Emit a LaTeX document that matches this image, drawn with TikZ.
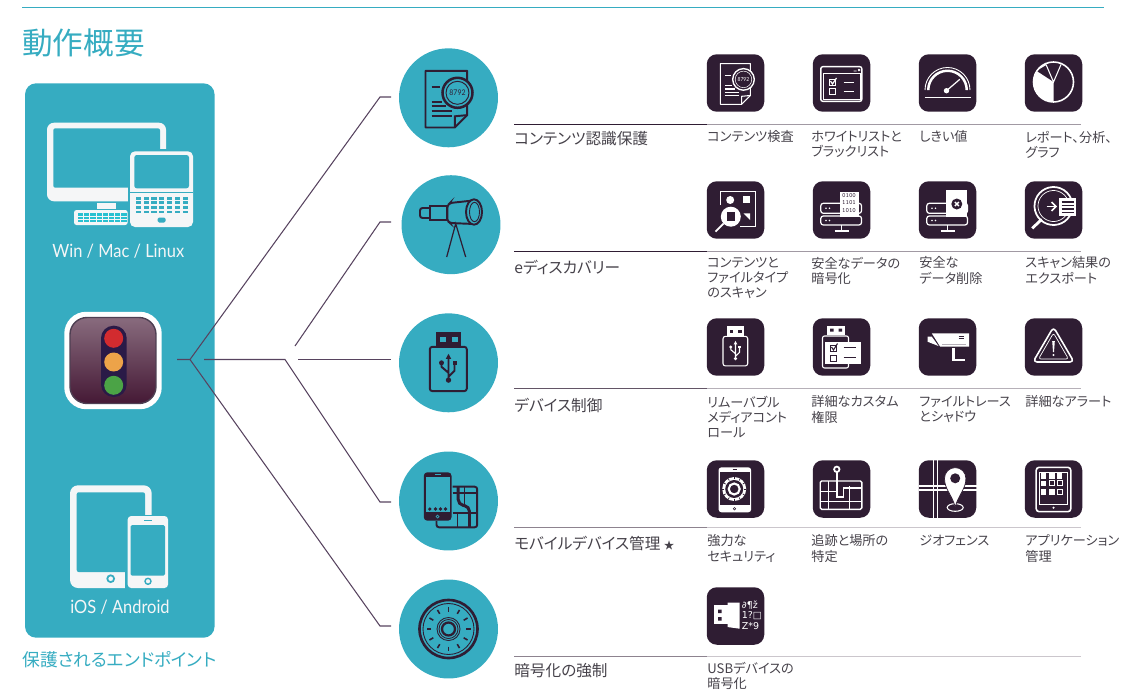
\documentclass[tikz,border=0pt]{standalone}
\usepackage{fontspec}
\setmainfont{Noto Sans CJK JP}[RawFeature=+palt]
\newfontfamily\latinfont{Lato}[FakeStretch=.9]
\newfontfamily\glyphfont{DejaVu Sans}
\usetikzlibrary{positioning}

\definecolor{panelblue}{HTML}{36ACC1}
\definecolor{tiledark}{HTML}{2F1D33}
\definecolor{fanline}{HTML}{57435F}
\definecolor{labelgrey}{HTML}{46424A}
\definecolor{paperwhite}{HTML}{F5F6F7}

\tikzset{
    tile/.style={fill=tiledark,rounded corners=.2cm,minimum size=1.15cm,inner sep=0},
    disc/.style={circle,fill=panelblue,minimum size=1.98cm,inner sep=0},
    fan/.style={draw=fanline,line width=.6pt},
    head/.style={anchor=west,inner sep=0,text=labelgrey,font=\fontsize{8.9}{10}\selectfont},
    sublabel/.style={anchor=north west,inner sep=0,align=left,text=labelgrey,font=\fontsize{7.5}{8.7}\selectfont},
    panellabel/.style={inner sep=0,text=paperwhite,font=\latinfont\fontsize{10.4}{12}\selectfont},
}

\newcommand{\oncircle}[2]{\begin{scope}[shift={(#1.center)}]\colorlet{ink}{tiledark}\colorlet{back}{panelblue}#2\end{scope}}
\newcommand{\ontile}[2]{\begin{scope}[shift={(#1.center)}]\colorlet{ink}{white}\colorlet{back}{tiledark}#2\end{scope}}

\newcommand{\docglass}[1]{
    \draw[ink,line width=#1,line join=round] (-23,-27) -- (18.7,-27) -- (18.7,17.3) -- (6.3,29.7) -- (-23,29.7) -- cycle;
    \draw[ink,line width=#1] (6.3,29.7) -- (6.3,18.5) -- (18.7,17.3);
    \draw[ink,line width=1.3*#1] (-17,-10.7) -- (-9,-10.7);
    \foreach \ly/\lx in {4/-7,8.3/-3,13.3/3,18/3}
        \draw[ink,line width=#1] (-17,\ly) -- (\lx,\ly);
    \draw[ink,fill=back,line width=1.3*#1] (9,-5) circle (15);
    \draw[ink,line width=.5*#1] (9,-5) circle (11.5);
    \node[text=ink,inner sep=0,transform shape,font=\latinfont\fontsize{4.4}{5}\selectfont] (num) at (9,-5) {8792};
}

\newcommand{\usbstick}[1]{
    \fill[ink] (-12.3,-31) rectangle (12.3,-16);
    \fill[back] (-8.7,-26) rectangle (-3,-21.3);
    \fill[back] (3,-26) rectangle (9,-21.3);
    \draw[ink,line width=#1,rounded corners=.05cm] (-18.7,-16) rectangle (18.3,28.3);
    \draw[ink,line width=#1] (0,-5) -- (0,17) (0,10) -- (-7,4) -- (-7,1) (0,14) -- (6,8) -- (6,0);
    \fill[ink] (0,-9) -- (-2.7,-4) -- (2.7,-4) -- cycle;
    \fill[ink] (0,17.3) circle (2.7);
    \fill[ink] (-7,0) circle (2.5);
    \fill[ink] (4,-2) rectangle (8,2);
}

\newcommand{\servers}{
    \draw[ink,line width=.7pt,rounded corners=.05cm] (-20.7,-6.7) rectangle (20,3.3);
    \draw[ink,line width=.7pt,rounded corners=.05cm] (-20.7,6) rectangle (20,15);
    \foreach \sy in {-1.7,10.5} {
        \fill[ink] (-15.5,\sy) circle (.9);
        \fill[ink] (-12,\sy) circle (.9);
    }
    \draw[ink,line width=.7pt] (0,15) -- (0,21) (-7,21) -- (7,21);
}

\begin{document}
\begin{tikzpicture}[x=.02cm,y=-.02cm]
    \useasboundingbox (0,0) rectangle (1140,700);

    \coordinate (topA) at (22,7.5);
    \coordinate (topB) at (1104,7.5);
    \draw[panelblue,line width=.5pt] (topA) -- (topB);

    \node[anchor=west,inner sep=0,text=panelblue,font=\fontsize{17.4}{20}\selectfont] (title) at (22,43) {動作概要};

    \node[fill=panelblue,rounded corners=.22cm,minimum width=3.79cm,minimum height=11.09cm,inner sep=0] (panel) at (119.8,360.5) {};
    \node[anchor=west,inner sep=0,text=panelblue,font=\fontsize{10.1}{11}\selectfont] (endpoints) at (22,660) {保護されるエンドポイント};

    \fill[paperwhite,rounded corners=.14cm] (47,122.7) rectangle (166,201.3);
    \fill[panelblue,rounded corners=.04cm] (53.3,128.3) rectangle (160,187.7);
    \fill[panelblue] (127.7,149) rectangle (167,202);
    \fill[paperwhite] (96.7,203.3) rectangle (116,208.7);
    \fill[paperwhite,rounded corners=.05cm] (74,210) rectangle (127.7,225);
    \foreach \i in {0,...,7}
        \foreach \j in {0,...,2}
            \fill[panelblue!75!cyan] (78+\i*6.2,213.2+\j*3.4) rectangle ++(5.2,2.4);
    \fill[paperwhite,rounded corners=.1cm] (130,151.3) rectangle (193,227);
    \fill[panelblue,rounded corners=.05cm] (134.3,155) rectangle (189,188.3);
    \draw[panelblue,line width=.3pt] (130,192) -- (193,192);
    \foreach \i in {0,...,6}
        \foreach \j in {0,...,3}
            \fill[panelblue] (135.7+\i*7.8,196.7+\j*4.6) rectangle ++(5.2,2.8);
    \fill[panelblue,rounded corners=.03cm] (157.7,217.5) rectangle (165.7,222.5);
    \node[panellabel] (desk) at (118.3,250.7) {Win / Mac / Linux};

    \node[fill=white,rounded corners=.44cm,minimum size=1.95cm,inner sep=0] (sigframe) at (113,360.5) {};
    \node[draw=tiledark!85,line width=.8pt,top color=tiledark!60!white!90!purple,bottom color=tiledark!85!purple,rounded corners=.34cm,minimum size=1.72cm,inner sep=0] (sig) at (113,360.5) {};
    \fill[tiledark!90!blue,rounded corners=.25cm] (101,325.7) rectangle (126.7,397);
    \foreach \ly/\lc in {338.3/D22B2F,362/EDA349,385.3/4BA346} {
        \definecolor{lamp}{HTML}{\lc}
        \fill[lamp] (113.7,\ly) circle (9.5);
    }

    \fill[paperwhite,rounded corners=.16cm] (70,485.3) rectangle (151.7,588);
    \fill[panelblue,rounded corners=.04cm] (76.7,492.3) rectangle (145,572);
    \fill[panelblue] (125,515) rectangle (153,590);
    \draw[panelblue,fill=paperwhite,line width=1pt] (110.7,578.7) circle (3.4);
    \fill[paperwhite,rounded corners=.07cm] (127.7,516) rectangle (168,588);
    \fill[panelblue,rounded corners=.03cm] (130.7,525) rectangle (165,575.7);
    \draw[panelblue,line width=.5pt] (144,520.7) -- (152,520.7);
    \draw[panelblue,fill=paperwhite,line width=.8pt] (148,581.3) circle (3);
    \node[panellabel] (mobile) at (120,607.3) {iOS / Android};

    \coordinate (stub) at (177,359.5);
    \coordinate (hub) at (190,359.5);
    \coordinate (k1) at (380,97);
    \coordinate (e1) at (391,97);
    \coordinate (s2) at (295,346);
    \coordinate (k2) at (380,222);
    \coordinate (e2) at (391,222);
    \coordinate (s3) at (298,359.5);
    \coordinate (e3) at (391,359.5);
    \coordinate (s4) at (204,359.5);
    \coordinate (b4) at (285,359.5);
    \coordinate (k4) at (380,502);
    \coordinate (e4) at (391,502);
    \coordinate (k5) at (380,626);
    \coordinate (e5) at (391,626);
    \draw[fan] (stub) -- (hub) -- (k1) -- (e1);
    \draw[fan] (s2) -- (k2) -- (e2);
    \draw[fan] (s3) -- (e3);
    \draw[fan] (s4) -- (b4) -- (k4) -- (e4);
    \draw[fan] (hub) -- (k5) -- (e5);

    \foreach \n/\x/\y in {1/448.5/97.8,2/451/224.7,3/448.5/362.8,4/448.5/501,5/448.5/629}
        \node[disc] (c\n) at (\x,\y) {};

    \foreach \r/\y in {1/83,2/210,3/347,4/489}
        \foreach \c/\x in {1/735.5,2/841.5,3/947.5,4/1053.5}
            \node[tile] (t\r\c) at (\x,\y) {};
    \node[tile] (t51) at (735.5,616) {};

    \foreach \r/\y/\hy/\lc/\rc/\w/\txt in {
        1/124.5/139/tiledark/tiledark!45/.6pt/コンテンツ認識保護,
        2/251.5/267/tiledark/tiledark!45/.6pt/eディスカバリー,
        3/388.3/405/tiledark!75/tiledark!35/.8pt/デバイス制御,
        4/527.7/543/tiledark!55/tiledark!25/.9pt/モバイルデバイス管理 {\fontsize{6}{6}\selectfont ★},
        5/656.7/671/tiledark!55/tiledark!25/.9pt/暗号化の強制} {
        \coordinate (ruleL\r) at (514,\y);
        \coordinate (ruleM\r) at (707,\y);
        \coordinate (ruleR\r) at (1081,\y);
        \draw[\lc,line width=\w] (ruleL\r) -- (ruleM\r);
        \draw[\rc,line width=\w] (ruleM\r) -- (ruleR\r);
        \node[head] (h\r) at (514,\hy) {\txt};
    }

    \foreach \n/\x/\y/\txt in {
        11/707/130.5/コンテンツ検査,
        12/811/130.5/{ホワイトリストと\\ブラックリスト},
        13/919/130.5/しきい値,
        14/1025/130.5/{レポート、分析、\\グラフ},
        21/707/256.5/{コンテンツと\\ファイルタイプ\\のスキャン},
        22/811/256.5/{安全なデータの\\暗号化},
        23/919/256.5/{安全な\\データ削除},
        24/1025/256.5/{スキャン結果の\\エクスポート},
        31/707/395.5/{リムーバブル\\メディアコント\\ロール},
        32/811/395.5/{詳細なカスタム\\権限},
        33/919/395.5/{ファイルトレース\\とシャドウ},
        34/1025/395.5/詳細なアラート,
        41/707/534.5/{強力な\\セキュリティ},
        42/811/534.5/{追跡と場所の\\特定},
        43/919/534.5/ジオフェンス,
        44/1025/534.5/{アプリケーション\\管理},
        51/707/661.5/{USBデバイスの\\暗号化}}
        \node[sublabel] (l\n) at (\x,\y) {\txt};

    \oncircle{c1}{\docglass{1.1pt}}
    \ontile{t11}{\begin{scope}[shift={(1.5,0)},scale=.72]\docglass{.6pt}\end{scope}}

    \oncircle{c2}{
        \draw[ink,line width=1.1pt,rounded corners=.05cm] (-21,-16.7) -- (-31,-16.7) -- (-31,-6.7) -- (-21,-6.7);
        \draw[ink,line width=1.1pt] (-21,-18.3) rectangle (-4,-5);
        \draw[ink,line width=1.1pt,rounded corners=.05cm] (23,-24.3) -- (-1,-21.7) -- (-3.7,-19) -- (-3.7,-4) -- (-1,-1.7) -- (23,-.7);
        \draw[ink,fill=back,line width=1.1pt] (23,-12.7) ellipse (8 and 12.7);
        \draw[ink,line width=.5pt] (23.5,-12.7) ellipse (5 and 9.7);
        \draw[ink,line width=.7pt] (-4.3,32.3) -- (4.7,-1) -- (14.7,32.3);
    }

    \oncircle{c3}{\usbstick{1.1pt}}
    \ontile{t31}{\begin{scope}[scale=.67]\usbstick{.6pt}\end{scope}}

    \oncircle{c4}{
        \draw[ink,line width=1.1pt,rounded corners=.05cm] (4,-14.3) -- (28.7,-14.3) -- (28.7,26.3) -- (-12,26.3) -- (-12,20);
        \draw[ink,line width=.6pt] (4,-8) -- (28.7,-8) (16,-14.3) -- (16,4) (4,12) -- (28.7,12) (9,12) -- (9,26.3);
        \draw[ink,line width=1.7pt,rounded corners=.1cm] (9.7,-14) -- (9.7,3.5) -- (21,5.5) -- (21,26);
        \fill[ink,rounded corners=.07cm] (-24.7,-28.7) rectangle (3,19.7);
        \fill[back] (-22.7,-24.5) rectangle (1.3,11);
        \foreach \dx in {-18.7,-13,-8,-3}
            \fill[ink] (\dx,8) circle (1.8);
        \draw[back,line width=.4pt] (-11,15.5) circle (1.5);
        \draw[back,line width=.4pt] (-14,-26.5) -- (-8,-26.5);
    }

    \oncircle{c5}{
        \draw[ink,line width=1.5pt] (0,0) circle (29);
        \draw[ink,line width=.5pt] (0,0) circle (25.5);
        \foreach \a in {0,30,...,330}
            \draw[ink,line width=.9pt] (\a:17.5) -- (\a:22);
        \draw[ink,line width=.5pt] (0,0) circle (11.5);
        \draw[ink,line width=.5pt] (0,0) circle (9.5);
        \draw[ink,line width=1.3pt] (0,0) circle (6.5);
    }

    \ontile{t12}{
        \draw[ink,line width=.8pt,rounded corners=.04cm] (-20.7,-16.3) rectangle (20.3,18.3);
        \draw[ink,line width=.3pt] (-18.7,-9.7) rectangle (18.3,16.3);
        \draw[ink,line width=.4pt] (12,-12) -- (15,-12) (16.5,-14) -- (18.5,-12) (18.5,-14) -- (16.5,-12);
        \draw[ink,line width=.4pt] (-12,-3.7) rectangle (-6,2.3) (-12,5.7) rectangle (-6,11.7);
        \draw[ink,line width=.7pt] (-11,-2) -- (-9,1) -- (-5,-5);
        \draw[ink,line width=.4pt] (2,-.7) -- (12,-.7) (2,8.7) -- (12,8.7);
    }

    \ontile{t13}{
        \draw[ink,line width=.5pt] (-22.5,7) arc (180:360:22.5);
        \fill[ink] (-20.5,7) arc (180:360:20.5) -- (18,7) arc (360:180:18) -- cycle;
        \draw[ink,line width=.8pt] (-23,14.3) -- (23,14.3);
        \draw[back,line width=1.6pt] (-1,7.7) -- (13,-5);
        \draw[ink,line width=.7pt] (-1,7.7) -- (12.3,-3.7);
        \fill[ink] (-1,7.7) circle (2.7);
    }

    \ontile{t14}{
        \draw[ink,line width=.9pt] (0,-1) circle (20);
        \fill[ink] (0,-1) -- (0,19) arc (90:213:20) -- cycle;
        \draw[ink,line width=.6pt] (-7.5,-18.5) -- (0,-1) -- (7.5,-18.5) (-7.5,-18.5) -- (-15,-14);
    }

    \ontile{t21}{
        \draw[ink,line width=.5pt] (-15.3,-5) -- (-15.3,-18.3) -- (20.3,-18.3) -- (20.3,16) -- (4,16);
        \fill[ink] (-5.3,-10) circle (4);
        \fill[ink] (7,-14) rectangle (14.7,-6.7);
        \fill[ink] (8,3.3) -- (14.7,3.3) -- (14.7,10) -- cycle;
        \fill[ink] (-4.7,6.7) circle (10);
        \fill[back] (-9,2.3) rectangle (-.5,11);
        \draw[ink,line width=1pt] (-12,13.5) -- (-20,21.7);
    }

    \ontile{t22}{
        \servers
        \fill[ink] (-2,-17.7) rectangle (17,7.3);
        \node[text=back,inner sep=0,align=center,font=\ttfamily\fontsize{3.7}{4.1}\selectfont] (bits) at (7.5,-7) {0100\\1101\\1010};
    }

    \ontile{t23}{
        \servers
        \fill[ink] (-1.7,-20) rectangle (19.3,7.3);
        \fill[back] (9.3,-6) circle (5.5);
        \draw[ink,line width=.8pt] (7.3,-8) -- (11.3,-4) (11.3,-8) -- (7.3,-4);
    }

    \ontile{t24}{
        \draw[ink,line width=1pt] (20:19) ++(0,-4) arc (20:340:19);
        \draw[ink,line width=.4pt] (30:15.5) ++(0,-4) arc (30:330:15.5);
        \draw[ink,line width=1.6pt] (-11.7,9.3) -- (-21.3,18.3);
        \fill[ink] (5.3,-11.7) rectangle (22.7,5.7);
        \foreach \ly in {-8,-4.5,-1,2.5}
            \draw[back,line width=.6pt] (8,\ly) -- (20,\ly);
        \draw[ink,line width=.9pt] (-7,-3.5) -- (1,-3.5);
        \draw[ink,line width=.9pt] (-2,-8) -- (2.5,-3.5) -- (-2,1);
    }

    \ontile{t32}{
        \fill[ink] (-14.7,-21) rectangle (3.7,-12);
        \fill[back] (-11.5,-18.5) rectangle (-8,-15.5) (-3,-18.5) rectangle (.5,-15.5);
        \draw[ink,line width=.6pt,rounded corners=.04cm] (-19,-11) rectangle (7,21);
        \fill[ink] (-16.3,-5.3) rectangle (19.7,17.3);
        \draw[back,line width=.4pt] (-11,-2) rectangle (-5,4) (-11,8) rectangle (-5,14);
        \draw[back,line width=.6pt] (-10,0) -- (-8,3) -- (-4,-3.5);
        \draw[back,line width=.8pt] (2,.7) -- (14.3,.7) (2,10.7) -- (14.3,10.7);
    }

    \ontile{t33}{
        \fill[ink] (-15.7,-13.7) -- (21.7,-13.7) -- (21.7,-.3) -- (-7.3,-.3) -- cycle;
        \fill[ink] (-20,-10.3) -- (-15.7,-10.3) -- (-9,-1) -- (-20,-5.3) -- cycle;
        \draw[tiledark!35,line width=.5pt] (-5.7,-2.7) -- (18.3,-2.7);
        \draw[back,line width=.5pt] (11,-11) -- (16,-11) (11,-8.7) -- (16,-8.7);
        \draw[ink,line width=1.4pt] (6,1) -- (6,13) -- (17.7,13);
    }

    \ontile{t34}{
        \draw[ink,line width=.9pt,line join=round,rounded corners=.08cm] (0,-20) -- (20.5,15) -- (-20.5,15) -- cycle;
        \draw[ink,line width=.4pt,line join=round,rounded corners=.05cm] (0,-14) -- (15,12) -- (-15,12) -- cycle;
        \fill[ink] (-1.3,-6) -- (1.3,-6) -- (.5,5) -- (-.5,5) -- cycle;
        \fill[ink] (0,8) circle (1.2);
    }

    \ontile{t41}{
        \fill[ink,rounded corners=.06cm] (-17,-21.7) rectangle (15.7,23.3);
        \fill[back] (-15.3,-17.3) rectangle (14,16);
        \draw[back,line width=.3pt] (-3,-19.5) -- (1,-19.5);
        \draw[back,line width=.3pt] (-1,19.8) circle (1.2);
        \fill[ink] (-1.3,0) circle (12);
        \foreach \a in {0,30,...,330}
            \draw[back,line width=.4pt] (-1.3,0) ++(\a:9.8) -- ++(\a:2);
        \fill[back] (-1.3,0) circle (9);
        \draw[ink,line width=1.2pt] (-1.3,0) circle (5.5);
    }

    \ontile{t42}{
        \draw[ink,line width=.8pt,rounded corners=.03cm] (-21.3,-8) rectangle (20.3,20.3);
        \draw[ink,line width=.35pt] (-21.3,2) -- (-4.7,2) (-21.3,12) -- (20.3,12) (-13,-8) -- (-13,20.3) (8,-3) -- (8,20.3);
        \draw[ink,line width=1.1pt] (-4.7,-17) -- (-4.7,8) -- (2,8) -- (2,-1) -- (20,-1);
        \draw[ink,fill=back,line width=1pt] (-4.7,-19.7) circle (2.7);
    }

    \ontile{t43}{
        \draw[ink,line width=.6pt] (-14,-29) -- (-14,29) (-10,-29) -- (-10,29);
        \draw[ink,line width=.6pt] (-29,-3) -- (29,-3) (-29,1) -- (29,1);
        \draw[ink,line width=.6pt] (7.7,18.5) ellipse (8 and 3.8);
        \fill[ink,draw=back,line width=.4pt] (7.7,17.7) .. controls (4,5) and (-3,0) .. (-3,-10.7) arc (180:360:10.7) .. controls (18.4,0) and (11.4,5) .. (7.7,17.7);
        \fill[back] (7.7,-10.7) circle (5);
    }

    \ontile{t44}{
        \draw[ink,line width=.9pt,rounded corners=.06cm] (-17.3,-21.7) rectangle (17.3,22.7);
        \draw[ink,line width=.4pt] (-14,-17) rectangle (14,15);
        \fill[ink] (0,18.7) circle (1.2);
        \foreach \gx/\gy in {-10/-13,-1.7/-13,6/-13,-10/-5.7,-10/2.7,-1.7/2.7}
            \fill[ink] (\gx-2.8,\gy-2.8) rectangle ++(5.6,5.6);
        \foreach \gx/\gy in {-1.7/-5.7,6/-5.7,6/2.7}
            \draw[ink,line width=.4pt] (\gx-2.5,\gy-2.5) rectangle ++(5,5);
    }

    \ontile{t51}{
        \fill[ink] (-21.5,-10.7) rectangle (-8,7.7);
        \fill[ink] (-8,-13.3) -- (4,-13.3) -- (4,12.7) -- (-8,11) -- cycle;
        \fill[back] (-17.5,-6.5) rectangle (-14,-3) (-17.5,1) rectangle (-14,4.5);
        \foreach \n/\gy/\txt in {1/-11/∂¶ž,2/0/1?□,3/10/Z*9}
            \node[anchor=west,inner sep=0,text=ink,font=\glyphfont\fontsize{5.4}{5.4}\selectfont] (g\n) at (6,\gy) {\txt};
    }
\end{tikzpicture}
\end{document}
